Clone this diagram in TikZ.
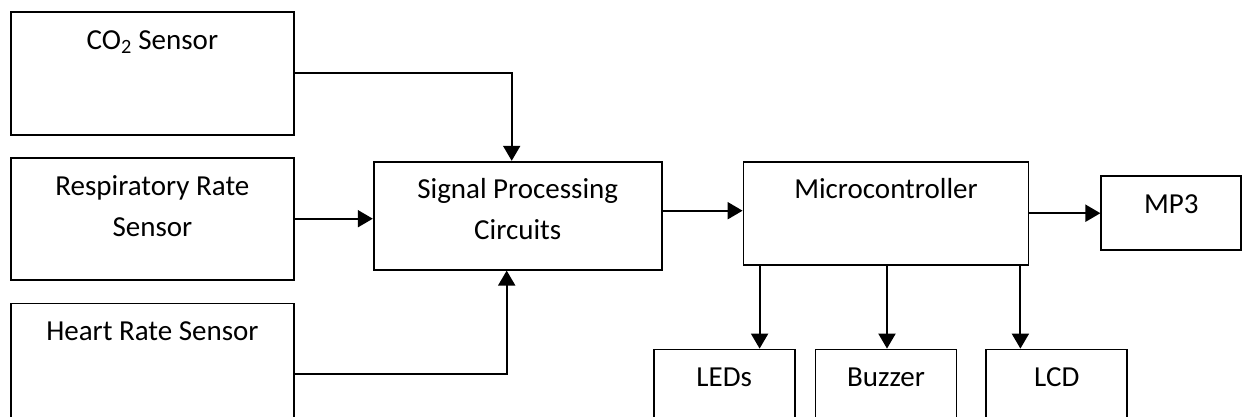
\documentclass[tikz,border=0pt]{standalone}
\usepackage{fontspec}
\setmainfont{Carlito}
\usetikzlibrary{positioning,arrows.meta}

\begin{document}
\begin{tikzpicture}[x=1pt,y=-1pt,
  blk/.style={draw,line width=1.8pt,inner sep=0pt,minimum width=#1},
  txt/.style={anchor=base,yshift=-38pt,align=center,font=\fontsize{29}{41}\selectfont},
  arr/.style={line width=2pt,-{Triangle[length=15pt,width=17pt]}}]
\useasboundingbox (0,0) rectangle (1248,416);
% sensors
\node[blk=283pt,minimum height=123pt,anchor=north west,
      label={[txt]north:CO\textsubscript{2} Sensor}]                        (co2)    at (10,11) {};
\node[blk=283pt,minimum height=122pt,below=21pt of co2,
      label={[txt,yshift=-42pt]north:Respiratory Rate\\Sensor}]              (resp)   {};
\node[blk=283pt,minimum height=140pt,below=22pt of resp,
      label={[txt]north:Heart Rate Sensor}]                                  (heart)  {};
% processing and control
\node[blk=288pt,minimum height=108pt,right=78pt of resp,yshift=3pt,
      label={[txt,yshift=-41pt]north:Signal Processing\\Circuits}]           (sp)     {};
\node[blk=285pt,minimum height=103pt,right=80pt of sp,yshift=2.5pt,
      label={[txt]north:Microcontroller}]                                    (micro)  {};
\node[blk=140pt,minimum height=74pt,right=71pt of micro,
      label={[txt]north:MP3}]                                                (mp3)    {};
% outputs
\node[blk=141pt,minimum height=90pt,below=83pt of micro,
      label={[txt]north:Buzzer}]                                             (buzzer) {};
\node[blk=141pt,minimum height=90pt,left=19pt of buzzer,
      label={[txt]north:LEDs}]                                               (leds)   {};
\node[blk=141pt,minimum height=90pt,right=28pt of buzzer,
      label={[txt]north:LCD}]                                                (lcd)    {};
\coordinate (tapL) at ([xshift=17pt]micro.south west);
\coordinate (tapB) at ([xshift=1pt]micro.south);
\coordinate (tapR) at ([xshift=-9pt]micro.south east);
\draw[arr] (co2.east) -| ([xshift=-6pt]sp.north);
\draw[arr] (resp.east) -- (resp.east -| sp.west);
\draw[arr] (heart.east) -| ([xshift=-11pt]sp.south);
\draw[arr] ([yshift=5pt]sp.east) -- ([yshift=5pt]sp.east -| micro.west);
\draw[arr] (micro.east |- mp3.west) -- (mp3.west);
\draw[arr] (tapL) -- (tapL |- leds.north);
\draw[arr] (tapB) -- (tapB |- buzzer.north);
\draw[arr] (tapR) -- (tapR |- lcd.north);
\end{tikzpicture}
\end{document}
